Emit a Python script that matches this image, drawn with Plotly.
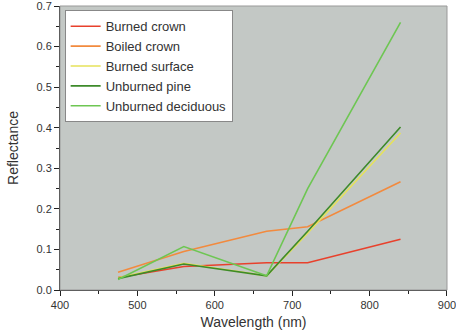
import plotly.graph_objects as go

wavelength = [475, 560, 667, 720, 840]
burned_crown = [0.031, 0.058, 0.067, 0.067, 0.125]
boiled_crown = [0.044, 0.095, 0.145, 0.156, 0.267]
burned_surface = [0.030, 0.066, 0.035, 0.140, 0.387]
unburned_pine = [0.028, 0.064, 0.035, 0.145, 0.402]
unburned_deciduous = [0.026, 0.107, 0.035, 0.250, 0.660]

series = [
    ("Burned crown", burned_crown, "#e8412c"),
    ("Boiled crown", boiled_crown, "#f28a3e"),
    ("Burned surface", burned_surface, "#e6e25a"),
    ("Unburned pine", unburned_pine, "#3d8a2a"),
    ("Unburned deciduous", unburned_deciduous, "#6ec653"),
]

fig = go.Figure()
for name, vals, col in series:
    fig.add_trace(go.Scatter(x=wavelength, y=vals, mode="lines", name=name,
                             line=dict(color=col, width=1.6)))

axis_common = dict(showgrid=False, zeroline=False, showline=True, linecolor="#222",
                   linewidth=1, ticks="outside", ticklen=5, tickcolor="#222",
                   ticklabeloverflow="allow", automargin=False,
                   tickfont=dict(family="Liberation Sans, Arial", size=11, color="#333"))
fig.update_xaxes(range=[400, 900.05], dtick=100, tick0=400,
                 minor=dict(dtick=50, ticks="outside", ticklen=3, tickcolor="#222"),
                 title=dict(text="Wavelength (nm)", font=dict(family="Liberation Sans, Arial", size=14, color="#333"), standoff=6),
                 **axis_common)
fig.update_yaxes(range=[0, 0.7001], dtick=0.1, tick0=0, tickformat=".1f",
                 minor=dict(dtick=0.05, ticks="outside", ticklen=3, tickcolor="#222"),
                 title=dict(text="Reflectance", font=dict(family="Liberation Sans, Arial", size=14, color="#333"), standoff=14),
                 **axis_common)

fig.add_shape(type="rect", xref="paper", yref="paper", x0=0, y0=0, x1=1, y1=1,
              line=dict(color="#999", width=1), layer="above")

fig.update_layout(
    width=456, height=336,
    margin=dict(l=60, r=9, t=6, b=46, autoexpand=False),
    plot_bgcolor="#c3c8c5", paper_bgcolor="white",
    font=dict(family="Liberation Sans, Arial", color="#333"),
    legend=dict(x=0.012, y=0.985, xanchor="left", yanchor="top",
                bgcolor="white", bordercolor="#888", borderwidth=1,
                font=dict(size=13, color="#333"), tracegroupgap=0,
                itemwidth=30),
)

fig.write_html("out.html")
